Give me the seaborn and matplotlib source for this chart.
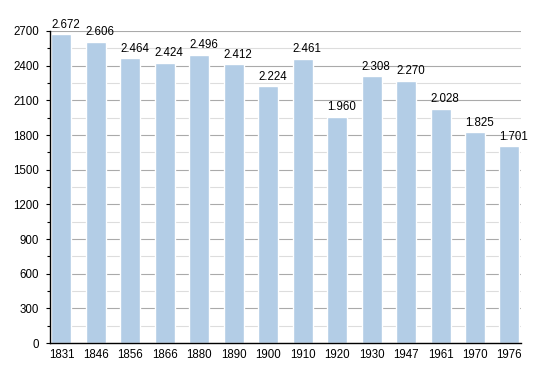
import numpy as np
import pandas as pd
import matplotlib
matplotlib.use("Agg")
import matplotlib.pyplot as plt
from matplotlib.ticker import MultipleLocator
import seaborn as sns

years = ['1831', '1846', '1856', '1866', '1880', '1890', '1900',
         '1910', '1920', '1930', '1947', '1961', '1970', '1976']
population = [2672, 2606, 2464, 2424, 2496, 2412, 2224,
              2461, 1960, 2308, 2270, 2028, 1825, 1701]

sns.set_style("white")
plt.rcParams['font.family'] = ['Liberation Sans', 'DejaVu Sans']
plt.rcParams['text.color'] = 'black'
plt.rcParams['xtick.color'] = 'black'
plt.rcParams['ytick.color'] = 'black'

df = pd.DataFrame({"year": years, "pop": population})

fig = plt.figure(figsize=(5.5, 3.73), dpi=100)
ax = fig.add_axes([0.091, 0.080, 0.856, 0.837])

bar_w = 0.58
sns.barplot(data=df, x="year", y="pop", color="#b3cde6", width=bar_w,
            saturation=1, ax=ax, zorder=3)

ax.set_ylim(0, 2700)
ax.set_xlim(-0.33, 13.33)
ax.yaxis.set_major_locator(MultipleLocator(300))
ax.yaxis.set_minor_locator(MultipleLocator(150))
ax.grid(axis="y", which="major", color="#aaaaaa", linewidth=0.8, zorder=0)
ax.grid(axis="y", which="minor", color="#dddddd", linewidth=0.8, zorder=0)
ax.set_axisbelow(True)

for s in ["top", "right"]:
    ax.spines[s].set_visible(False)
for s in ["left", "bottom"]:
    ax.spines[s].set_color("black")
    ax.spines[s].set_linewidth(1.0)
    ax.spines[s].set_zorder(4)

ax.tick_params(axis="y", which="major", left=True, length=3, width=0.8,
               labelsize=8.3, pad=5)
ax.tick_params(axis="y", which="minor", left=True, length=2, width=0.8)
ax.tick_params(axis="x", bottom=False, labelsize=8.3, pad=0.5)
ax.set_xlabel("")
ax.set_ylabel("")

# value labels start at the bar's left edge
for i, v in enumerate(population):
    lab = f"{v:,}".replace(",", ".")
    ax.text(i - bar_w / 2, v + 30, lab, ha="left", va="bottom", fontsize=8.3,
            zorder=5, clip_on=False)

fig.savefig("out.png", dpi=100)
